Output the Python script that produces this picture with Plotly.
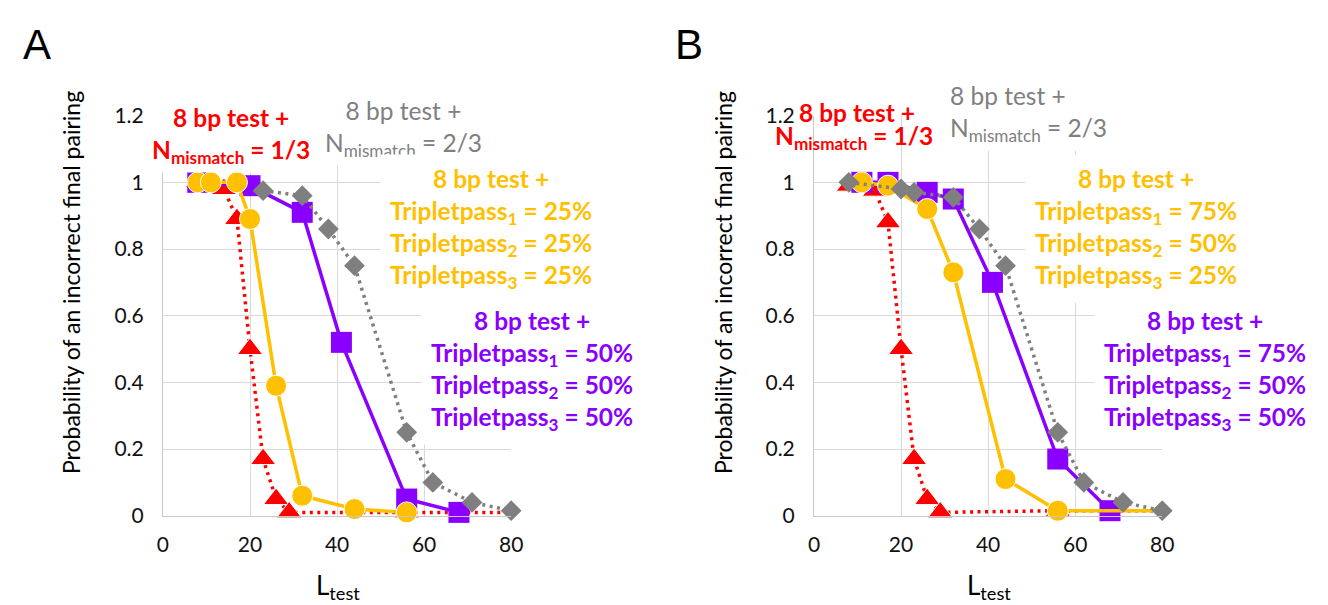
import plotly.graph_objects as go

# ---------------- data ----------------
# Panel A
a_red_x = [8, 11, 14, 17, 20, 23, 26, 29, 56, 80]
a_red_y = [1.0, 0.99, 0.98, 0.89, 0.50, 0.17, 0.05, 0.01, 0.01, 0.01]
a_purple_x = [8, 20, 32, 41, 56, 68]
a_purple_y = [1.0, 0.99, 0.91, 0.52, 0.05, 0.01]
a_yellow_x = [8, 11, 17, 20, 26, 32, 44, 56]
a_yellow_y = [1.0, 1.0, 1.0, 0.89, 0.39, 0.06, 0.02, 0.01]
a_grey_x = [23, 32, 38, 44, 56, 62, 71, 80]
a_grey_y = [0.975, 0.96, 0.86, 0.75, 0.25, 0.10, 0.04, 0.015]

# Panel B
b_red_x = [8, 11, 14, 17, 20, 23, 26, 29, 56, 80]
b_red_y = [0.99, 0.99, 0.975, 0.88, 0.50, 0.17, 0.05, 0.01, 0.015, 0.015]
b_purple_x = [11, 17, 26, 32, 41, 56, 68]
b_purple_y = [1.0, 1.0, 0.97, 0.95, 0.70, 0.17, 0.015]
b_yellow_x = [11, 17, 26, 32, 44, 56, 68, 80]
b_yellow_y = [1.0, 0.99, 0.92, 0.73, 0.11, 0.015, 0.015, 0.015]
b_grey_x = [8, 20, 23, 32, 38, 44, 56, 62, 71, 80]
b_grey_y = [1.0, 0.98, 0.97, 0.955, 0.86, 0.75, 0.25, 0.10, 0.04, 0.015]

x_ticks = [0, 20, 40, 60, 80]
y_ticks = [0, 0.2, 0.4, 0.6, 0.8, 1.0, 1.2]
y_tick_labels = ["0", "0.2", "0.4", "0.6", "0.8", "1", "1.2"]

x_title = "L<sub>test</sub>"
y_title = "Probability of an incorrect final pairing"

red_text = ["8 bp test +", "N<sub>mismatch</sub> = 1/3"]
grey_text = ["8 bp test +", "N<sub>mismatch</sub> = 2/3"]
a_yellow_text = ["8 bp test +", "Tripletpass<sub>1</sub> = 25%",
                 "Tripletpass<sub>2</sub> = 25%", "Tripletpass<sub>3</sub> = 25%"]
a_purple_text = ["8 bp test +", "Tripletpass<sub>1</sub> = 50%",
                 "Tripletpass<sub>2</sub> = 50%", "Tripletpass<sub>3</sub> = 50%"]
b_yellow_text = ["8 bp test +", "Tripletpass<sub>1</sub> = 75%",
                 "Tripletpass<sub>2</sub> = 50%", "Tripletpass<sub>3</sub> = 25%"]
b_purple_text = ["8 bp test +", "Tripletpass<sub>1</sub> = 75%",
                 "Tripletpass<sub>2</sub> = 50%", "Tripletpass<sub>3</sub> = 50%"]

# ---------------- style ----------------
W, H = 1328, 605
RED = "#FF0000"
YELLOW = "#FFC000"
PURPLE = "#8A00FF"
GREY = "#7F7F7F"
GREYTXT = "#808080"
FONT = "Lato"
BOLD_SIZE = 24.5


def px(x):
    return x / W


def py(y):
    return 1 - y / H


fig = go.Figure()


def add_panel(xa, ya, rx, ry, ux, uy, yx, yy, gx, gy, yellow_tail_hidden):
    # red dotted triangles (last point drawn without marker)
    fig.add_trace(go.Scatter(
        x=rx, y=ry, mode="lines+markers", xaxis=xa, yaxis=ya, cliponaxis=False,
        line=dict(color=RED, width=3.5, dash="3px,4.5px"),
        marker=dict(symbol="triangle-up", color=RED, opacity=1,
                    size=[22] * (len(rx) - 1) + [0])))
    # purple solid squares
    fig.add_trace(go.Scatter(
        x=ux, y=uy, mode="lines+markers", xaxis=xa, yaxis=ya, cliponaxis=False,
        line=dict(color=PURPLE, width=3.5),
        marker=dict(symbol="square", color=PURPLE, size=21, opacity=1)))
    # yellow solid circles
    ysz = [21] * len(yx)
    if yellow_tail_hidden:
        ysz[-1] = 0
        ysz[-2] = 0
    fig.add_trace(go.Scatter(
        x=yx, y=yy, mode="lines+markers", xaxis=xa, yaxis=ya, cliponaxis=False,
        line=dict(color=YELLOW, width=3.5),
        marker=dict(symbol="circle", color=YELLOW, size=ysz, opacity=1)))
    # grey dotted diamonds
    fig.add_trace(go.Scatter(
        x=gx, y=gy, mode="lines+markers", xaxis=xa, yaxis=ya, cliponaxis=False,
        line=dict(color=GREY, width=3.5, dash="3px,4.5px"),
        marker=dict(symbol="diamond", color=GREY, size=16, opacity=1)))


add_panel("x", "y", a_red_x, a_red_y, a_purple_x, a_purple_y,
          a_yellow_x, a_yellow_y, a_grey_x, a_grey_y, False)
add_panel("x2", "y2", b_red_x, b_red_y, b_purple_x, b_purple_y,
          b_yellow_x, b_yellow_y, b_grey_x, b_grey_y, True)

xaxis_style = dict(range=[0, 80], tickvals=x_ticks, showgrid=True, gridcolor="#D9D9D9",
                   gridwidth=1, showline=True, linecolor="#C8C8C8", linewidth=1,
                   zeroline=False, ticks="", ticklabelstandoff=10,
                   tickfont=dict(family=FONT, size=21, color="#111111"))
yaxis_style = dict(range=[0, 1.2], tickvals=y_ticks, ticktext=y_tick_labels,
                   showgrid=True, gridcolor="#D9D9D9", gridwidth=1, showline=True,
                   linecolor="#C8C8C8", linewidth=1, zeroline=False, ticks="",
                   ticklabelstandoff=14,
                   tickfont=dict(family=FONT, size=21, color="#111111"))

ydom = [py(515), py(97.7)]
fig.update_layout(
    width=W, height=H, autosize=False,
    margin=dict(l=0, r=0, t=0, b=0),
    paper_bgcolor="white", plot_bgcolor="white",
    showlegend=False,
    xaxis=dict(domain=[px(151), px(504)], anchor="y", **xaxis_style),
    yaxis=dict(domain=ydom, anchor="x", **yaxis_style),
    xaxis2=dict(domain=[px(811), px(1164)], anchor="y2", **xaxis_style),
    yaxis2=dict(domain=ydom, anchor="x2", **yaxis_style),
)

annotations = []


def txt(lines, x, y, color, size, bold=False, bg="white", family=FONT, angle=0,
        pad=4, anchor="center"):
    if isinstance(lines, str):
        lines = [lines]
    if bold:
        lines = ["<b>%s</b>" % s for s in lines]
    annotations.append(dict(
        text="<br>".join(lines), x=px(x), y=py(y), xref="paper", yref="paper",
        xanchor=anchor, yanchor="middle", showarrow=False, textangle=angle,
        align="center" if anchor == "center" else anchor,
        font=dict(family=family, size=size, color=color),
        bgcolor=bg, borderpad=pad))


# panel letters
txt("A", 23, 23, "black", 42, family="Liberation Sans, Arial", bg=None)
txt("B", 684, 23, "black", 42, family="Liberation Sans, Arial", bg=None)

# axis titles
for cx in (328, 988):
    txt(x_title, cx, 589, "black", 26, bg=None)
for cx in (58, 718):
    txt(y_title, cx, 272, "black", 23, bg=None, angle=-90)

# Panel A texts
txt(grey_text, 395, 111, GREYTXT, 24.5)
txt(red_text, 220, 118, RED, BOLD_SIZE, bold=True)
txt(a_yellow_text, 484, 215, YELLOW, BOLD_SIZE, bold=True, pad=9)
txt(a_purple_text, 525, 363, PURPLE, BOLD_SIZE, bold=True, pad=9)

# Panel B texts
txt(grey_text, 944, 95, GREYTXT, 24.5, anchor="left")
txt(red_text[0], 855, 94, RED, BOLD_SIZE, bold=True, bg=None)
txt(red_text[1], 852, 120, RED, BOLD_SIZE, bold=True, bg=None)
txt(b_yellow_text, 1137, 215, YELLOW, BOLD_SIZE, bold=True, pad=9)
txt(b_purple_text, 1207, 363, PURPLE, BOLD_SIZE, bold=True, pad=9)

fig.update_layout(annotations=annotations)
fig.write_html("out.html")
